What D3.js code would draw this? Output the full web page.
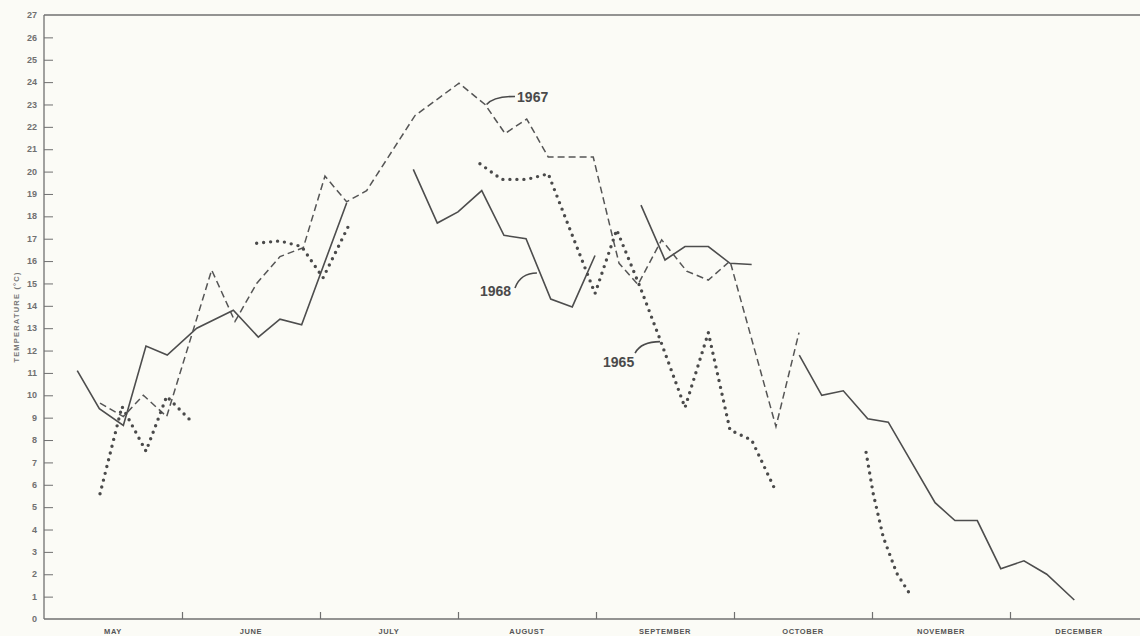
<!DOCTYPE html>
<html>
<head>
<meta charset="utf-8">
<script src="https://cdn.jsdelivr.net/npm/d3@7"></script>
<style>
  html, body { margin: 0; padding: 0; background: #fbfbf6; }
  svg { display: block; }
</style>
</head>
<body>
<svg id="chart" width="1140" height="636"></svg>
<script>
// x values are month positions (0 = start of May, 1 = start of June, ...), y values are temperature (°C)
const months = ["MAY", "JUNE", "JULY", "AUGUST", "SEPTEMBER", "OCTOBER", "NOVEMBER", "DECEMBER"];
const yTicks = d3.range(0, 28);

// 1968 (solid), several separate segments
const s1968a_x = [0.241, 0.401, 0.575, 0.739, 0.893, 1.107, 1.372, 1.553, 1.710, 1.867, 2.193];
const s1968a_y = [11.1, 9.4, 8.65, 12.2, 11.8, 13.0, 13.8, 12.6, 13.4, 13.15, 18.6];
const s1968b_x = [2.676, 2.850, 3.000, 3.172, 3.333, 3.493, 3.672, 3.828, 3.993];
const s1968b_y = [20.1, 17.7, 18.2, 19.15, 17.15, 17.0, 14.3, 13.95, 16.25];
const s1968c_x = [4.326, 4.500, 4.645, 4.814, 4.971, 5.128];
const s1968c_y = [18.5, 16.05, 16.65, 16.65, 15.9, 15.85];
const s1968d_x = [5.473, 5.636, 5.792, 5.969, 6.118, 6.457, 6.601, 6.763, 6.933, 7.101, 7.266, 7.466];
const s1968d_y = [11.8, 10.0, 10.2, 8.95, 8.8, 5.2, 4.4, 4.4, 2.25, 2.6, 2.0, 0.85];

// 1967 (dashed)
const s1967a_x = [0.406, 0.575, 0.720, 0.889, 1.215, 1.384, 1.541, 1.710, 1.879, 2.036, 2.193, 2.338,
                  2.688, 3.007, 3.196, 3.341, 3.498, 3.654, 3.980, 4.125, 4.167, 4.304, 4.476, 4.657,
                  4.814, 4.971, 5.304, 5.471];
const s1967a_y = [9.65, 9.05, 10.0, 9.05, 15.6, 13.3, 15.0, 16.2, 16.6, 19.8, 18.65, 19.15,
                  22.5, 23.95, 23.0, 21.7, 22.35, 20.65, 20.65, 16.95, 15.9, 14.95, 16.95, 15.55,
                  15.15, 16.0, 8.6, 12.8];

// 1965 (dotted)
const s1965a_x = [0.406, 0.565, 0.739, 0.889, 1.058];
const s1965a_y = [5.6, 9.5, 7.5, 9.95, 8.9];
const s1965b_x = [1.541, 1.710, 1.867, 2.022, 2.205];
const s1965b_y = [16.8, 16.9, 16.65, 15.25, 17.55];
const s1965c_x = [3.159, 3.317, 3.498, 3.654, 3.993, 4.150, 4.319, 4.464, 4.645, 4.814, 4.971, 5.128, 5.304];
const s1965c_y = [20.35, 19.65, 19.65, 19.9, 14.55, 17.4, 14.85, 12.5, 9.45, 12.8, 8.45, 8.0, 5.7];
const s1965d_x = [5.957, 6.009, 6.082, 6.179, 6.288];
const s1965d_y = [7.45, 5.6, 3.65, 2.05, 0.98];

// series labels (data units): label position, leader start (on the line side near label) and leader end
const labelNames = ["1967", "1968", "1965"];
const labelX = [3.428, 3.159, 4.051];
const labelY = [23.1, 14.45, 11.27];
const leadFromX = [3.207, 3.413, 4.283];
const leadFromY = [23.0, 14.8, 11.89];
const leadToX = [3.413, 3.572, 4.464];
const leadToY = [23.36, 15.47, 12.4];

const svg = d3.select("#chart");
const x = d3.scaleLinear().domain([0, 8]).range([44, 1148]);
const y = d3.scaleLinear().domain([0, 27]).range([619, 15]);

const ink = "#4d4d4d";
const axisInk = "#707070";

// frame: left axis, bottom axis, top border
svg.append("line").attr("x1", x(0)).attr("x2", x(0)).attr("y1", y(27)).attr("y2", y(0))
  .attr("stroke", axisInk).attr("stroke-width", 1.3);
svg.append("line").attr("x1", x(0)).attr("x2", 1140).attr("y1", y(0)).attr("y2", y(0))
  .attr("stroke", axisInk).attr("stroke-width", 1.3);
svg.append("line").attr("x1", x(0)).attr("x2", 1140).attr("y1", y(27)).attr("y2", y(27))
  .attr("stroke", axisInk).attr("stroke-width", 1.3);

// y ticks (inward) and labels
const yAxis = d3.axisRight(y).tickValues(yTicks.filter(d => d > 0 && d < 27)).tickSize(9).tickFormat("");
const yg = svg.append("g").attr("transform", `translate(${x(0)},0)`).call(yAxis);
yg.select(".domain").remove();
yg.selectAll(".tick line").attr("stroke", axisInk).attr("stroke-width", 1);

svg.append("g").selectAll("text").data(yTicks).join("text")
  .attr("x", 37).attr("y", d => y(d)).attr("dy", "0.35em")
  .attr("text-anchor", "end")
  .attr("font-family", "Liberation Sans, Arial, sans-serif")
  .attr("font-size", 9).attr("font-weight", "bold").attr("fill", "#707070")
  .text(d => d);

// month boundary ticks (upward) and month labels
const xg = svg.append("g").attr("transform", `translate(0,${y(0)})`)
  .call(d3.axisTop(x).tickValues(d3.range(1, 8)).tickSize(7).tickFormat(""));
xg.select(".domain").remove();
xg.selectAll(".tick line").attr("stroke", axisInk).attr("stroke-width", 1.2);

svg.append("g").selectAll("text").data(months).join("text")
  .attr("x", (d, i) => x(i + 0.5)).attr("y", 634)
  .attr("text-anchor", "middle")
  .attr("font-family", "Liberation Sans, Arial, sans-serif")
  .attr("font-size", 7.5).attr("font-weight", "bold").attr("letter-spacing", 0.6)
  .attr("fill", "#555")
  .text(d => d);

// y axis title
svg.append("text")
  .attr("transform", `translate(16,317) rotate(-90)`)
  .attr("text-anchor", "middle").attr("dy", "0.35em")
  .attr("font-family", "Liberation Sans, Arial, sans-serif")
  .attr("font-size", 7.5).attr("font-weight", "bold").attr("letter-spacing", 1.2)
  .attr("fill", "#777")
  .text("TEMPERATURE (°C)");

// data lines
const line = d3.line().x(d => x(d[0])).y(d => y(d[1]));
const zipXY = (xs, ys) => xs.map((v, i) => [v, ys[i]]);

const solid = [[s1968a_x, s1968a_y], [s1968b_x, s1968b_y], [s1968c_x, s1968c_y], [s1968d_x, s1968d_y]];
const dashed = [[s1967a_x, s1967a_y]];
const dotted = [[s1965a_x, s1965a_y], [s1965b_x, s1965b_y], [s1965c_x, s1965c_y], [s1965d_x, s1965d_y]];

solid.forEach(([xs, ys]) => {
  svg.append("path").attr("d", line(zipXY(xs, ys)))
    .attr("fill", "none").attr("stroke", ink).attr("stroke-width", 1.6);
});
dashed.forEach(([xs, ys]) => {
  svg.append("path").attr("d", line(zipXY(xs, ys)))
    .attr("fill", "none").attr("stroke", "#555").attr("stroke-width", 1.5)
    .attr("stroke-dasharray", "7,4");
});
dotted.forEach(([xs, ys]) => {
  svg.append("path").attr("d", line(zipXY(xs, ys)))
    .attr("fill", "none").attr("stroke", "#4a4a4a").attr("stroke-width", 3.4)
    .attr("stroke-linecap", "round").attr("stroke-dasharray", "0,7");
});

// labels and leader curves
labelNames.forEach((name, i) => {
  svg.append("text").attr("x", x(labelX[i])).attr("y", y(labelY[i]))
    .attr("font-family", "Liberation Sans, Arial, sans-serif")
    .attr("font-size", 14).attr("font-weight", "bold").attr("fill", "#4a4a4a")
    .text(name);
  const sx = x(leadFromX[i]), sy = y(leadFromY[i]);
  const ex = x(leadToX[i]), ey = y(leadToY[i]);
  const p = d3.path();
  p.moveTo(sx, sy);
  p.quadraticCurveTo(sx + (ex - sx) * 0.25, Math.min(sy, ey), ex, ey);
  svg.append("path").attr("d", p.toString())
    .attr("fill", "none").attr("stroke", "#4a4a4a").attr("stroke-width", 1.6);
});
</script>
</body>
</html>
